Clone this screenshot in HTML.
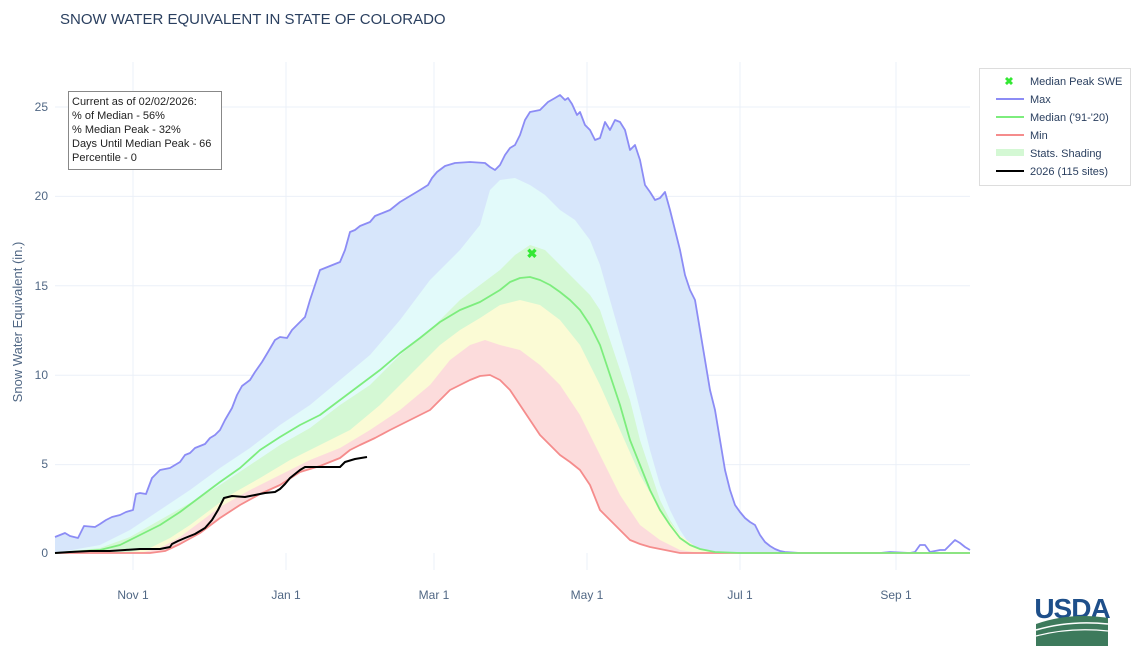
<!DOCTYPE html>
<html><head><meta charset="utf-8"><style>
body{margin:0;background:#fff;font-family:"Liberation Sans",sans-serif;}
svg text{font-family:"Liberation Sans",sans-serif;}
</style></head><body>
<svg width="1142" height="658" xmlns="http://www.w3.org/2000/svg">
<rect width="1142" height="658" fill="#fff"/>
<text x="60" y="24" font-size="15" fill="#2a3f5f">SNOW WATER EQUIVALENT IN STATE OF COLORADO</text>
<!-- grid -->
<g stroke="#ebf0f8" stroke-width="1">
<line x1="55" x2="970" y1="464.6" y2="464.6"/><line x1="55" x2="970" y1="375.2" y2="375.2"/>
<line x1="55" x2="970" y1="285.8" y2="285.8"/><line x1="55" x2="970" y1="196.4" y2="196.4"/>
<line x1="55" x2="970" y1="107" y2="107"/>
<line x1="133" x2="133" y1="62" y2="570"/><line x1="286" x2="286" y1="62" y2="570"/>
<line x1="434" x2="434" y1="62" y2="570"/><line x1="587" x2="587" y1="62" y2="570"/>
<line x1="740" x2="740" y1="62" y2="570"/><line x1="896" x2="896" y1="62" y2="570"/>
</g>
<!-- fills -->
<path fill="#d7e6fb" d="M55,553 L55,537 60,535 65,533 70,536 78,538 84,526 95,527 100,524 106,520 112,517 120,515 126,512 133,510 136,494 140,493 146,494 152,478 160,470 170,468 175,465 180,462 185,455 190,453 195,448 200,446 205,444 210,438 215,435 220,430 225,420 232,408 237,395 242,386 250,380 255,372 262,362 268,352 275,340 280,337 287,338 292,330 300,322 305,317 310,300 315,285 320,270 330,266 340,262 345,250 350,232 355,230 360,226 365,224 370,222 375,216 380,214 390,210 400,202 410,196 420,190 428,185 432,178 437,172 445,166 455,163 470,162 485,163 490,167 495,170 500,165 505,155 510,148 515,145 520,135 525,120 530,112 540,110 548,102 555,98 560,95 565,100 568,98 572,104 577,115 580,112 585,125 590,130 595,140 600,138 605,122 610,130 615,120 620,122 625,130 630,150 635,145 640,160 645,185 650,192 655,200 660,198 665,192 670,210 675,230 680,250 685,275 690,290 695,300 700,330 705,360 710,390 715,410 720,440 725,470 730,490 735,505 740,512 745,518 750,522 755,525 760,535 765,542 770,546 775,549 780,551 785,552 800,553 Z"/>
<path fill="#e2fafa" d="M55,553 100,545 130,530 160,510 190,490 220,468 250,448 280,425 310,405 340,380 370,355 400,320 430,280 460,250 480,225 490,190 500,180 515,178 530,185 545,195 560,210 575,220 590,240 600,265 610,300 620,335 630,370 640,410 650,450 660,485 670,510 680,530 690,545 700,550 720,553 Z"/>
<path fill="#d4f8d4" d="M55,553 100,548 130,537 160,520 190,503 220,485 250,465 280,445 310,428 340,405 370,385 400,355 430,330 460,300 480,285 500,270 515,255 530,245 545,250 560,265 575,280 590,295 600,310 610,340 620,370 630,400 640,440 650,470 660,500 670,520 680,535 690,545 700,550 720,553 Z"/>
<path fill="#fbfbd5" d="M55,553 130,552 150,548 170,538 190,525 210,510 230,495 260,478 290,460 320,445 350,430 380,405 410,375 440,345 460,330 480,318 500,305 520,300 540,305 560,320 580,345 600,385 620,430 640,475 660,510 680,535 700,550 720,553 Z"/>
<path fill="#fcdcdc" d="M55,553 140,553 160,548 180,537 200,522 220,507 250,490 280,475 310,460 340,448 370,430 400,410 430,385 450,360 470,345 485,340 500,345 520,350 540,365 560,385 580,415 600,455 620,495 640,525 660,540 680,550 700,553 Z"/>
<path fill="#fff" d="M55,553 150,553 165,551 180,544 200,533 220,518 240,505 260,494 280,485 300,472 320,466 340,458 350,450 360,445 375,438 390,430 410,420 430,410 440,400 450,390 460,385 470,380 480,376 490,375 500,380 505,385 510,390 520,405 530,420 540,435 550,445 560,455 570,462 580,470 590,485 600,510 610,520 620,530 630,540 640,544 650,547 660,549 670,551 680,553 Z"/>
<!-- lines -->
<g fill="none" stroke-width="1.8" stroke-linejoin="round">
<path stroke="#8c8cf5" d="M55,537 60,535 65,533 70,536 78,538 84,526 95,527 100,524 106,520 112,517 120,515 126,512 133,510 136,494 140,493 146,494 152,478 160,470 170,468 175,465 180,462 185,455 190,453 195,448 200,446 205,444 210,438 215,435 220,430 225,420 232,408 237,395 242,386 250,380 255,372 262,362 268,352 275,340 280,337 287,338 292,330 300,322 305,317 310,300 315,285 320,270 330,266 340,262 345,250 350,232 355,230 360,226 365,224 370,222 375,216 380,214 390,210 400,202 410,196 420,190 428,185 432,178 437,172 445,166 455,163 470,162 485,163 490,167 495,170 500,165 505,155 510,148 515,145 520,135 525,120 530,112 540,110 548,102 555,98 560,95 565,100 568,98 572,104 577,115 580,112 585,125 590,130 595,140 600,138 605,122 610,130 615,120 620,122 625,130 630,150 635,145 640,160 645,185 650,192 655,200 660,198 665,192 670,210 675,230 680,250 685,275 690,290 695,300 700,330 705,360 710,390 715,410 720,440 725,470 730,490 735,505 740,512 745,518 750,522 755,525 760,535 765,542 770,546 775,549 780,551 785,552 800,553 880,553 890,552 910,553 915,552 920,545 925,545 930,552 935,551 940,550 945,550 950,545 955,540 960,543 965,547 970,550"/>
<path stroke="#f58c8c" d="M55,553 150,553 165,551 180,544 200,533 220,518 240,505 260,494 280,485 300,472 320,466 340,458 350,450 360,445 375,438 390,430 410,420 430,410 440,400 450,390 460,385 470,380 480,376 490,375 500,380 505,385 510,390 520,405 530,420 540,435 550,445 560,455 570,462 580,470 590,485 600,510 610,520 620,530 630,540 640,544 650,547 660,549 670,551 680,553 970,553"/>
<path stroke="#7ded7d" d="M55,553 100,550 120,545 140,535 160,525 180,512 200,497 220,482 240,468 260,450 280,437 300,425 320,415 340,400 360,385 380,370 400,353 420,338 440,322 460,310 480,302 500,290 510,282 520,278 530,277 540,280 550,285 560,292 570,300 580,310 590,325 600,345 610,375 620,405 630,440 640,465 650,490 660,510 670,525 680,538 690,545 700,549 715,552 740,553 970,553"/>
<path stroke="#000" stroke-width="2" d="M55,553 70,552 90,551 110,551 125,550 140,549 160,549 170,547 172,544 178,541 185,538 195,534 205,528 212,520 218,510 222,502 224,498 232,496 245,497 255,495 265,493 275,492 280,489 285,484 290,478 295,474 300,470 305,467 315,467 340,467 345,462 355,459 367,457"/>
</g>
<text x="532" y="258" font-size="13" font-weight="bold" fill="#33e833" text-anchor="middle">✖</text>
<!-- axis labels -->
<g font-size="12" fill="#506784" text-anchor="end">
<text x="48" y="557">0</text><text x="48" y="468">5</text><text x="48" y="379">10</text>
<text x="48" y="290">15</text><text x="48" y="200">20</text><text x="48" y="111">25</text>
</g>
<g font-size="12" fill="#506784" text-anchor="middle">
<text x="133" y="599">Nov 1</text><text x="286" y="599">Jan 1</text><text x="434" y="599">Mar 1</text>
<text x="587" y="599">May 1</text><text x="740" y="599">Jul 1</text><text x="896" y="599">Sep 1</text>
</g>
<text transform="translate(22,322) rotate(-90)" font-size="13" fill="#506784" text-anchor="middle">Snow Water Equivalent (in.)</text>
<!-- info box -->
<rect x="68.5" y="91.5" width="153" height="78" fill="#fff" stroke="#888" stroke-width="1"/>
<g font-size="11" fill="#222">
<text x="72" y="105">Current as of 02/02/2026:</text>
<text x="72" y="119">% of Median - 56%</text>
<text x="72" y="133">% Median Peak - 32%</text>
<text x="72" y="147">Days Until Median Peak - 66</text>
<text x="72" y="161">Percentile - 0</text>
</g>
<!-- legend -->
<rect x="979.5" y="68.5" width="151" height="117" fill="#fff" stroke="#ddd"/>
<g font-size="11" fill="#2a3f5f">
<text x="1009" y="85" font-size="11" font-weight="bold" fill="#33e833" text-anchor="middle">✖</text>
<text x="1030" y="85">Median Peak SWE</text>
<line x1="996" x2="1024" y1="99" y2="99" stroke="#8c8cf5" stroke-width="2"/><text x="1030" y="103">Max</text>
<line x1="996" x2="1024" y1="117" y2="117" stroke="#7ded7d" stroke-width="2"/><text x="1030" y="121">Median ('91-'20)</text>
<line x1="996" x2="1024" y1="135" y2="135" stroke="#f58c8c" stroke-width="2"/><text x="1030" y="139">Min</text>
<rect x="996" y="149" width="28" height="7" fill="#d4f8d4"/><text x="1030" y="157">Stats. Shading</text>
<line x1="996" x2="1024" y1="171" y2="171" stroke="#000" stroke-width="2"/><text x="1030" y="175">2026 (115 sites)</text>
</g>
<!-- USDA logo -->
<text x="1072" y="618" font-size="28" font-weight="bold" fill="#1e4f8a" text-anchor="middle" letter-spacing="-1">USDA</text>
<path d="M1036,624 Q1070,612 1108,618 L1108,646 L1036,646 Z" fill="#3d7a5c"/>
<path d="M1036,630 Q1070,620 1108,624" stroke="#fff" stroke-width="1.5" fill="none"/>
<path d="M1036,636 Q1070,627 1108,631" stroke="#fff" stroke-width="1.2" fill="none"/>
</svg>
</body></html>
